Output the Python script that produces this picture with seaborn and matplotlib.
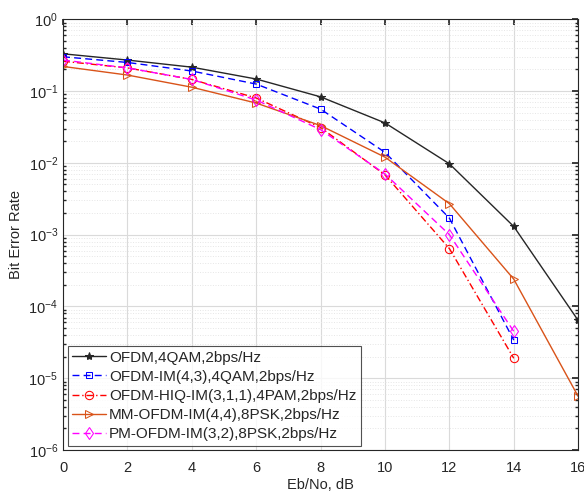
import numpy as np
import pandas as pd
import matplotlib
matplotlib.use("Agg")
import matplotlib.pyplot as plt
import seaborn as sns
from matplotlib.ticker import LogLocator, NullFormatter

snr = [0, 2, 4, 6, 8, 10, 12, 14, 16]
snr14 = [0, 2, 4, 6, 8, 10, 12, 14]

ber_ofdm = [0.33, 0.27, 0.215, 0.147, 0.083, 0.036, 0.0097, 0.0013, 6.4e-5]
ber_im = [0.30, 0.25, 0.19, 0.125, 0.056, 0.014, 0.0017, 3.4e-5]
ber_hiq = [0.26, 0.21, 0.145, 0.08, 0.031, 0.0068, 6.4e-4, 1.9e-5]
ber_mm = [0.22, 0.167, 0.113, 0.068, 0.033, 0.012, 0.0027, 2.4e-4, 5.6e-6]
ber_pm = [0.27, 0.21, 0.145, 0.075, 0.029, 0.007, 0.001, 4.5e-5]

labels = ["OFDM,4QAM,2bps/Hz",
          "OFDM-IM(4,3),4QAM,2bps/Hz",
          "OFDM-HIQ-IM(3,1,1),4PAM,2bps/Hz",
          "MM-OFDM-IM(4,4),8PSK,2bps/Hz",
          "PM-OFDM-IM(3,2),8PSK,2bps/Hz"]

sns.set_theme(style="white")
plt.rcParams['font.family'] = ['Liberation Sans', 'DejaVu Sans']
plt.rcParams['mathtext.fontset'] = 'custom'
plt.rcParams['mathtext.rm'] = 'Liberation Sans'

fig = plt.figure(figsize=(5.84, 4.93), dpi=100)
ax = fig.add_axes([0.108, 0.087, 0.882, 0.874])

series = [
    (snr, ber_ofdm, labels[0], "#262626", "-", "*", 6),
    (snr14, ber_im, labels[1], "#0000FF", (0, (5, 3)), "s", 5),
    (snr14, ber_hiq, labels[2], "#FF0000", (0, (5, 2, 1, 2)), "o", 6),
    (snr, ber_mm, labels[3], "#D95319", "-", ">", 6),
    (snr14, ber_pm, labels[4], "#FF00FF", (0, (5, 3)), "d", 6),
]
for x, y, lab, col, ls, mk, ms in series:
    sns.lineplot(x=x, y=y, ax=ax, color=col, linestyle=ls, marker=mk,
                 markersize=ms, markerfacecolor="none" if mk != "*" else col,
                 markeredgecolor=col, linewidth=1.0, label=lab)

ax.set_yscale("log")
ax.set_xlim(0, 16)
ax.set_ylim(1e-6, 1)
ax.set_xticks(range(0, 17, 2))
ax.yaxis.set_major_locator(LogLocator(base=10, numticks=10))
ax.yaxis.set_minor_locator(LogLocator(base=10, subs=np.arange(2, 10), numticks=20))
ax.yaxis.set_minor_formatter(NullFormatter())
ax.grid(True, which="major", color="#DADADA", linewidth=0.8)
ax.grid(True, which="minor", axis="y", color="#E6E6E6", linestyle=":", linewidth=0.7)
ax.tick_params(which="both", direction="in", top=True, right=True, labelsize=10.5, colors="#262626")
ax.tick_params(which="major", length=4)
ax.tick_params(axis="x", which="major", pad=8)
ax.tick_params(which="minor", length=2, left=True, right=True)
for s in ax.spines.values():
    s.set_color("#262626")
    s.set_linewidth(0.8)
ax.set_xlabel("Eb/No, dB", fontsize=10.5, color="#262626", labelpad=2)
ax.set_ylabel("Bit Error Rate", fontsize=10.5, color="#262626", labelpad=4)

leg = ax.legend(loc="lower left", fontsize=11, frameon=True, fancybox=False,
                borderpad=0.3, labelspacing=0.33, handlelength=2.2,
                handletextpad=0.2, borderaxespad=0.3)
leg.get_frame().set_edgecolor("#262626")
leg.get_frame().set_linewidth(0.8)

fig.savefig("out.png", dpi=100)
